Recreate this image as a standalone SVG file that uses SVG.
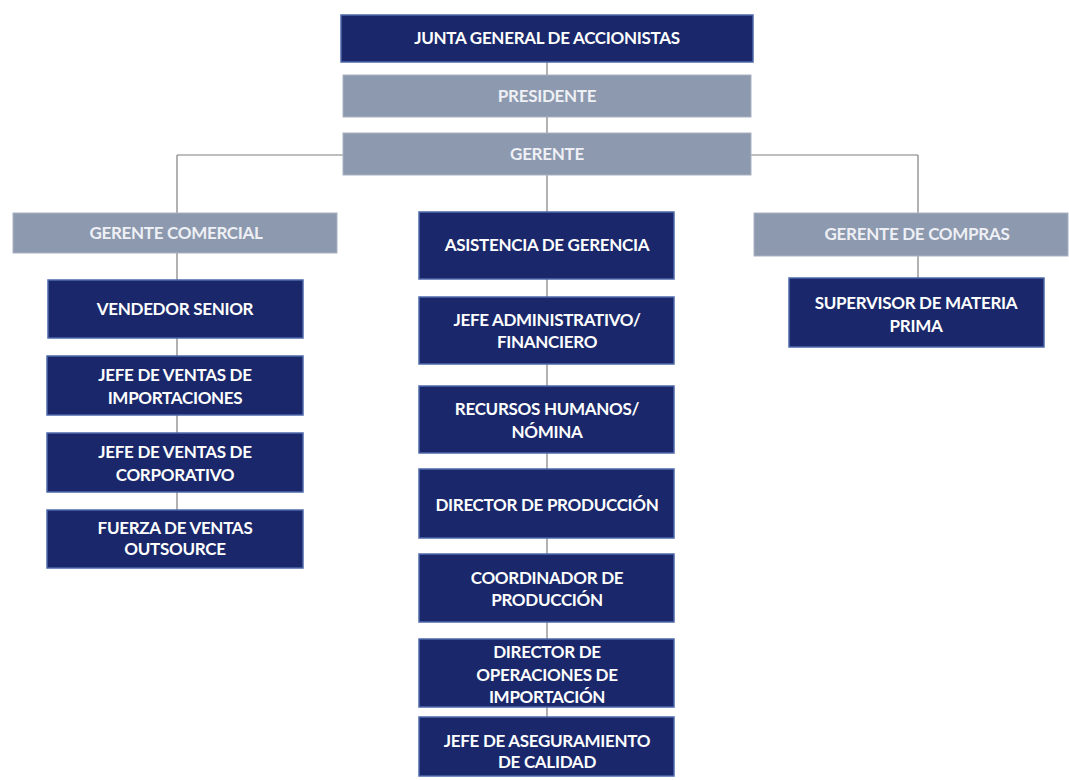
<svg xmlns="http://www.w3.org/2000/svg" width="1069" height="780" viewBox="0 0 1069 780">
<style>
.bg{fill:#ffffff}
.navy{fill:#1a286b;stroke:#4e69ab;stroke-width:1.5}
.gray{fill:#8d99ae;stroke:#aab3c3;stroke-width:1}
.t{font-family:Lato,"Liberation Sans",sans-serif;font-weight:700;font-size:17px;text-anchor:middle;letter-spacing:-0.3px}
.tw{fill:#ffffff}
.tg{fill:#eef0f5}
.ln{stroke:#7f7f7f;stroke-width:1.2;fill:none}
</style>
<rect class="bg" x="0" y="0" width="1069" height="780"/>
<g id="connectors">
<path class="ln" d="M547,62V75M547,117V133M547,175V717M177,155H343M751,155H918M177,155V213M918,155V213M177,253V510M918,256V278"/>
</g>
<g id="junta"><rect class="navy" x="341" y="15" width="412" height="47"/><text class="t tw" x="547" y="44">JUNTA GENERAL DE ACCIONISTAS</text></g>
<g id="presidente"><rect class="gray" x="343" y="75" width="408" height="42"/><text class="t tg" x="547" y="102">PRESIDENTE</text></g>
<g id="gerente"><rect class="gray" x="343" y="133" width="408" height="42"/><text class="t tg" x="547" y="160">GERENTE</text></g>
<g id="gerente-comercial"><rect class="gray" x="13" y="213" width="324" height="40"/><text class="t tg" x="176" y="239">GERENTE COMERCIAL</text></g>
<g id="vendedor-senior"><rect class="navy" x="48" y="280" width="255" height="58"/><text class="t tw" x="175" y="315">VENDEDOR SENIOR</text></g>
<g id="jefe-ventas-importaciones"><rect class="navy" x="47" y="356" width="256" height="59"/><text class="t tw" x="175" y="381">JEFE DE VENTAS DE</text><text class="t tw" x="175" y="404">IMPORTACIONES</text></g>
<g id="jefe-ventas-corporativo"><rect class="navy" x="47" y="433" width="256" height="59"/><text class="t tw" x="175" y="458">JEFE DE VENTAS DE</text><text class="t tw" x="175" y="481">CORPORATIVO</text></g>
<g id="fuerza-ventas"><rect class="navy" x="47" y="510" width="256" height="58"/><text class="t tw" x="175" y="534">FUERZA DE VENTAS</text><text class="t tw" x="175" y="555">OUTSOURCE</text></g>
<g id="asistencia"><rect class="navy" x="419" y="212" width="255" height="67"/><text class="t tw" x="547" y="251">ASISTENCIA DE GERENCIA</text></g>
<g id="jefe-administrativo"><rect class="navy" x="419" y="297" width="255" height="67"/><text class="t tw" x="547" y="326">JEFE ADMINISTRATIVO/</text><text class="t tw" x="547" y="348">FINANCIERO</text></g>
<g id="recursos-humanos"><rect class="navy" x="419" y="386" width="255" height="67"/><text class="t tw" x="547" y="415">RECURSOS HUMANOS/</text><text class="t tw" x="547" y="438">NÓMINA</text></g>
<g id="director-produccion"><rect class="navy" x="419" y="469" width="255" height="69"/><text class="t tw" x="547" y="511">DIRECTOR DE PRODUCCIÓN</text></g>
<g id="coordinador-produccion"><rect class="navy" x="419" y="554" width="255" height="68"/><text class="t tw" x="547" y="584">COORDINADOR DE</text><text class="t tw" x="547" y="606">PRODUCCIÓN</text></g>
<g id="director-operaciones"><rect class="navy" x="419" y="639" width="255" height="68"/><text class="t tw" x="547" y="658">DIRECTOR DE</text><text class="t tw" x="547" y="681">OPERACIONES DE</text><text class="t tw" x="547" y="703">IMPORTACIÓN</text></g>
<g id="jefe-aseguramiento"><rect class="navy" x="419" y="717" width="255" height="59"/><text class="t tw" x="547" y="747">JEFE DE ASEGURAMIENTO</text><text class="t tw" x="547" y="768">DE CALIDAD</text></g>
<g id="gerente-compras"><rect class="gray" x="754" y="213" width="314" height="43"/><text class="t tg" x="917" y="240">GERENTE DE COMPRAS</text></g>
<g id="supervisor"><rect class="navy" x="789" y="278" width="255" height="69"/><text class="t tw" x="916" y="309">SUPERVISOR DE MATERIA</text><text class="t tw" x="916" y="332">PRIMA</text></g>
</svg>
